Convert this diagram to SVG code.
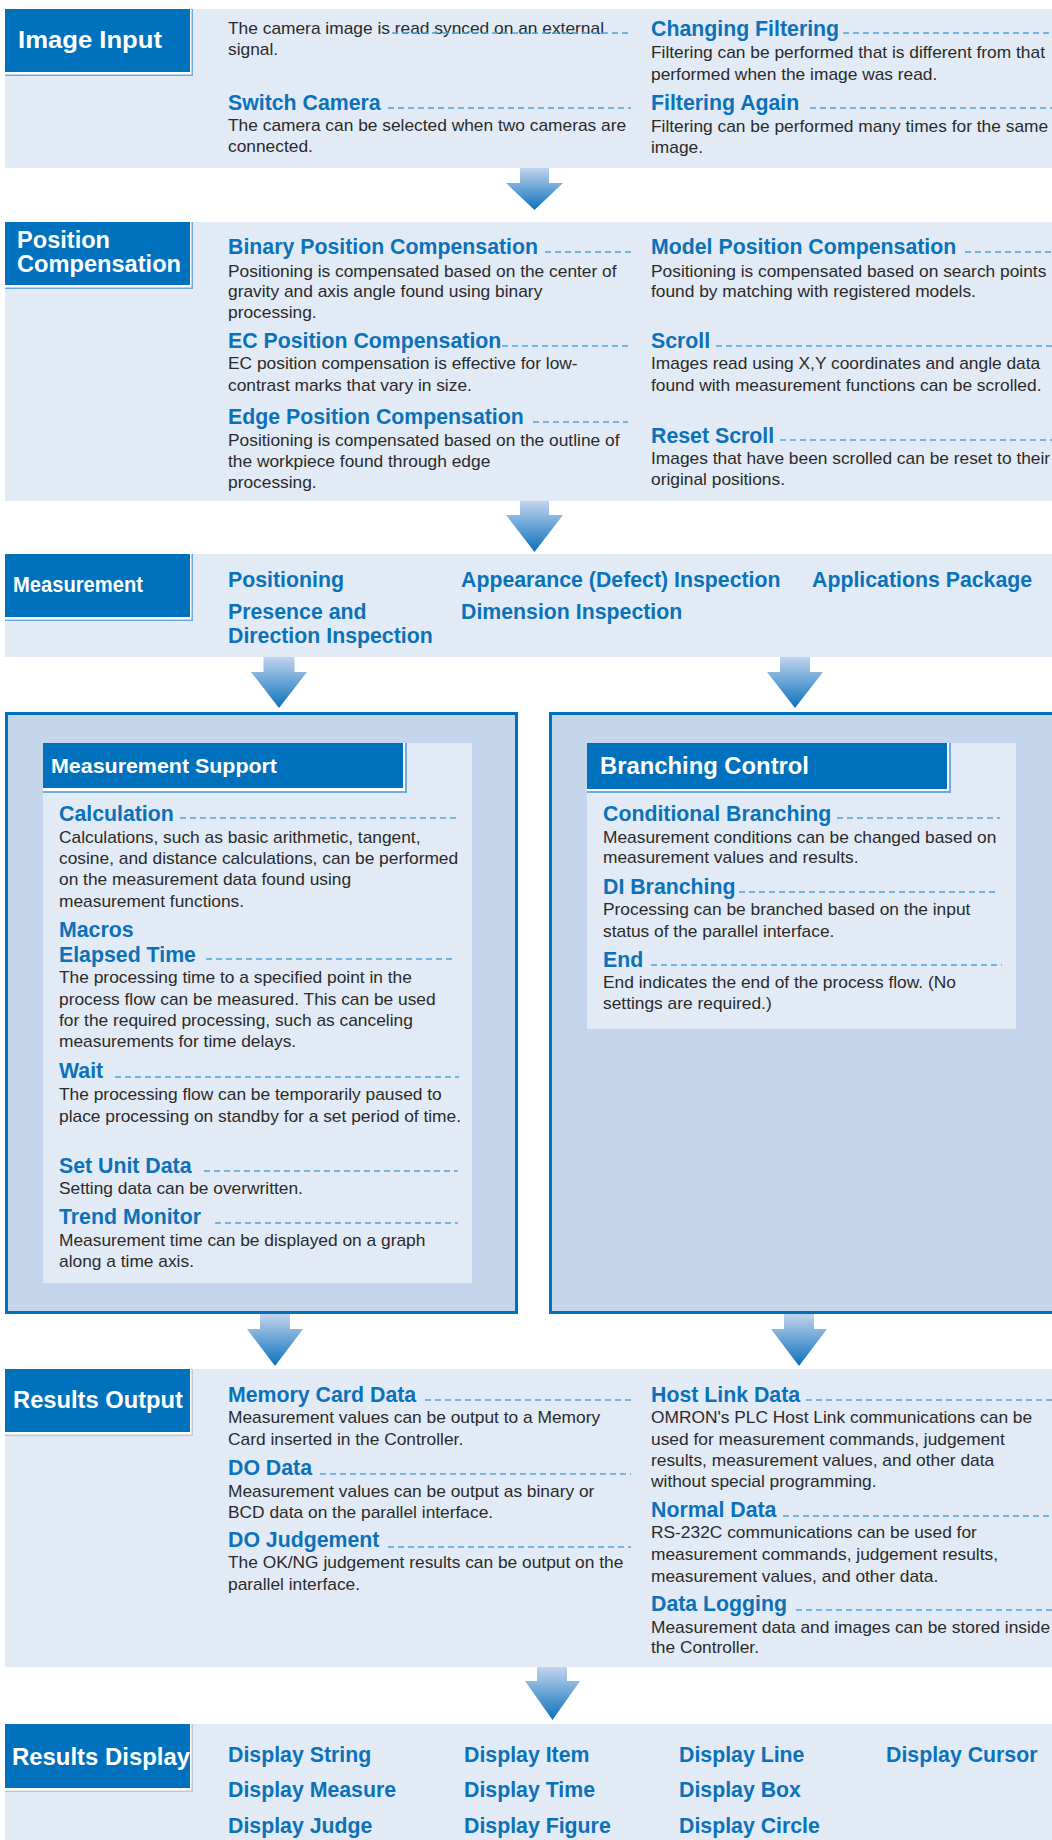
<svg xmlns="http://www.w3.org/2000/svg" width="1052" height="1840" viewBox="0 0 1052 1840">
<defs>
<linearGradient id="ag" x1="0" y1="0" x2="0" y2="1">
<stop offset="0" stop-color="#C2D4EE"/>
<stop offset="1" stop-color="#0B71BC"/>
</linearGradient>
<style>
.band{fill:#E2EAF5}
.tb{fill:#0071BC}
.tbo{fill:#6FA9DE}
.tbg{fill:#C3C7CF}
.gap{fill:#FFFFFF}
.hd{font-family:"Liberation Sans",Arial,sans-serif;font-weight:bold;fill:#FFFFFF}
.t{font-family:"Liberation Sans",Arial,sans-serif;font-weight:bold;font-size:21.3px;fill:#0B72BA}
.b{font-family:"Liberation Sans",Arial,sans-serif;font-size:17.35px;fill:#2A2A2A}
.d{stroke:#4FA3DB;stroke-width:1.3;stroke-dasharray:6 4;fill:none}
.box{fill:#C5D5EC;stroke:#0071BC;stroke-width:3}
.arrow{fill:url(#ag)}
</style>
</defs>
<rect width="1052" height="1840" fill="#FFFFFF"/>

<g id="image-input">
<rect class="band" x="5" y="9" width="1047" height="159"/>
<rect class="tbo" x="5" y="9" width="188" height="67"/>
<rect class="gap" x="5" y="9" width="186.5" height="65.5"/>
<rect class="tb" x="5" y="9" width="185" height="63"/>
<text class="hd" x="18" y="48" font-size="24" textLength="144" lengthAdjust="spacingAndGlyphs">Image Input</text>
<text class="b" x="228" y="34">The camera image is read synced on an external</text>
<text class="b" x="228" y="55">signal.</text>
<line class="d" x1="392" y1="33" x2="631" y2="33"/>
<text class="t" x="228" y="110">Switch Camera</text>
<line class="d" x1="388" y1="108" x2="631" y2="108"/>
<text class="b" x="228" y="131">The camera can be selected when two cameras are</text>
<text class="b" x="228" y="152">connected.</text>
<text class="t" x="651" y="36">Changing Filtering</text>
<line class="d" x1="843" y1="33" x2="1052" y2="33"/>
<text class="b" x="651" y="58">Filtering can be performed that is different from that</text>
<text class="b" x="651" y="80">performed when the image was read.</text>
<text class="t" x="651" y="110">Filtering Again</text>
<line class="d" x1="810" y1="108" x2="1052" y2="108"/>
<text class="b" x="651" y="132">Filtering can be performed many times for the same</text>
<text class="b" x="651" y="153">image.</text>
</g>

<g id="position-compensation">
<rect class="band" x="5" y="222" width="1047" height="279"/>
<rect class="tbo" x="5" y="222" width="188" height="67"/>
<rect class="gap" x="5" y="222" width="186.5" height="65.5"/>
<rect class="tb" x="5" y="222" width="185" height="63"/>
<text class="hd" x="17" y="248" font-size="23.5" textLength="93" lengthAdjust="spacingAndGlyphs">Position</text>
<text class="hd" x="17" y="272" font-size="23.5" textLength="164" lengthAdjust="spacingAndGlyphs">Compensation</text>
<text class="t" x="228" y="254">Binary Position Compensation</text>
<line class="d" x1="545" y1="252" x2="631" y2="252"/>
<text class="b" x="228" y="277">Positioning is compensated based on the center of</text>
<text class="b" x="228" y="297">gravity and axis angle found using binary</text>
<text class="b" x="228" y="318">processing.</text>
<text class="t" x="228" y="348">EC Position Compensation</text>
<line class="d" x1="502" y1="346" x2="628" y2="346"/>
<text class="b" x="228" y="369">EC position compensation is effective for low-</text>
<text class="b" x="228" y="391">contrast marks that vary in size.</text>
<text class="t" x="228" y="424">Edge Position Compensation</text>
<line class="d" x1="533" y1="422" x2="628" y2="422"/>
<text class="b" x="228" y="446">Positioning is compensated based on the outline of</text>
<text class="b" x="228" y="467">the workpiece found through edge</text>
<text class="b" x="228" y="488">processing.</text>
<text class="t" x="651" y="254">Model Position Compensation</text>
<line class="d" x1="965" y1="252" x2="1052" y2="252"/>
<text class="b" x="651" y="277">Positioning is compensated based on search points</text>
<text class="b" x="651" y="297">found by matching with registered models.</text>
<text class="t" x="651" y="348">Scroll</text>
<line class="d" x1="716" y1="346" x2="1052" y2="346"/>
<text class="b" x="651" y="369">Images read using X,Y coordinates and angle data</text>
<text class="b" x="651" y="391">found with measurement functions can be scrolled.</text>
<text class="t" x="651" y="443">Reset Scroll</text>
<line class="d" x1="780" y1="440" x2="1052" y2="440"/>
<text class="b" x="651" y="464">Images that have been scrolled can be reset to their</text>
<text class="b" x="651" y="485">original positions.</text>
</g>

<g id="measurement">
<rect class="band" x="5" y="554" width="1047" height="103"/>
<rect class="tbo" x="5" y="554" width="188" height="67"/>
<rect class="gap" x="5" y="554" width="186.5" height="65.5"/>
<rect class="tb" x="5" y="554" width="185" height="63"/>
<text class="hd" x="13" y="592" font-size="22" textLength="130" lengthAdjust="spacingAndGlyphs">Measurement</text>
<text class="t" x="228" y="587">Positioning</text>
<text class="t" x="228" y="619">Presence and</text>
<text class="t" x="228" y="643">Direction Inspection</text>
<text class="t" x="461" y="587">Appearance (Defect) Inspection</text>
<text class="t" x="461" y="619">Dimension Inspection</text>
<text class="t" x="812" y="587">Applications Package</text>
</g>

<g id="measurement-support">
<rect class="box" x="6.5" y="713.5" width="510" height="599"/>
<rect class="band" x="43" y="743" width="429" height="540"/>
<rect class="tbo" x="43" y="743" width="364" height="50"/>
<rect class="gap" x="43" y="743" width="362" height="48"/>
<rect class="tb" x="43" y="743" width="360" height="45"/>
<text class="hd" x="51" y="773" font-size="21" textLength="226" lengthAdjust="spacingAndGlyphs">Measurement Support</text>
<text class="t" x="59" y="821">Calculation</text>
<line class="d" x1="180" y1="818" x2="459" y2="818"/>
<text class="b" x="59" y="843">Calculations, such as basic arithmetic, tangent,</text>
<text class="b" x="59" y="864">cosine, and distance calculations, can be performed</text>
<text class="b" x="59" y="885">on the measurement data found using</text>
<text class="b" x="59" y="907">measurement functions.</text>
<text class="t" x="59" y="937">Macros</text>
<text class="t" x="59" y="962">Elapsed Time</text>
<line class="d" x1="206" y1="959" x2="454" y2="959"/>
<text class="b" x="59" y="983">The processing time to a specified point in the</text>
<text class="b" x="59" y="1005">process flow can be measured. This can be used</text>
<text class="b" x="59" y="1026">for the required processing, such as canceling</text>
<text class="b" x="59" y="1047">measurements for time delays.</text>
<text class="t" x="59" y="1078">Wait</text>
<line class="d" x1="115" y1="1077" x2="459" y2="1077"/>
<text class="b" x="59" y="1100">The processing flow can be temporarily paused to</text>
<text class="b" x="59" y="1122">place processing on standby for a set period of time.</text>
<text class="t" x="59" y="1173">Set Unit Data</text>
<line class="d" x1="204" y1="1171" x2="458" y2="1171"/>
<text class="b" x="59" y="1194">Setting data can be overwritten.</text>
<text class="t" x="59" y="1224">Trend Monitor</text>
<line class="d" x1="215" y1="1223" x2="458" y2="1223"/>
<text class="b" x="59" y="1246">Measurement time can be displayed on a graph</text>
<text class="b" x="59" y="1267">along a time axis.</text>
</g>

<g id="branching-control">
<rect class="box" x="550.5" y="713.5" width="510" height="599"/>
<rect class="band" x="587" y="743" width="429" height="286"/>
<rect class="tbo" x="587" y="743" width="364" height="50"/>
<rect class="gap" x="587" y="743" width="362" height="48"/>
<rect class="tb" x="587" y="743" width="360" height="46"/>
<text class="hd" x="600" y="774" font-size="23" textLength="209" lengthAdjust="spacingAndGlyphs">Branching Control</text>
<text class="t" x="603" y="821">Conditional Branching</text>
<line class="d" x1="837" y1="818" x2="1000" y2="818"/>
<text class="b" x="603" y="843">Measurement conditions can be changed based on</text>
<text class="b" x="603" y="863">measurement values and results.</text>
<text class="t" x="603" y="894">DI Branching</text>
<line class="d" x1="739" y1="892" x2="997" y2="892"/>
<text class="b" x="603" y="915">Processing can be branched based on the input</text>
<text class="b" x="603" y="937">status of the parallel interface.</text>
<text class="t" x="603" y="967">End</text>
<line class="d" x1="651" y1="965" x2="1002" y2="965"/>
<text class="b" x="603" y="988">End indicates the end of the process flow. (No</text>
<text class="b" x="603" y="1009">settings are required.)</text>
</g>

<g id="results-output">
<rect class="band" x="5" y="1369" width="1047" height="298"/>
<rect class="tbg" x="5" y="1369" width="188" height="67"/>
<rect class="gap" x="5" y="1369" width="186.5" height="65.5"/>
<rect class="tb" x="5" y="1369" width="185" height="63"/>
<text class="hd" x="13" y="1408" font-size="23.5" textLength="170" lengthAdjust="spacingAndGlyphs">Results Output</text>
<text class="t" x="228" y="1402">Memory Card Data</text>
<line class="d" x1="425" y1="1400" x2="631" y2="1400"/>
<text class="b" x="228" y="1423">Measurement values can be output to a Memory</text>
<text class="b" x="228" y="1445">Card inserted in the Controller.</text>
<text class="t" x="228" y="1475">DO Data</text>
<line class="d" x1="320" y1="1474" x2="631" y2="1474"/>
<text class="b" x="228" y="1497">Measurement values can be output as binary or</text>
<text class="b" x="228" y="1518">BCD data on the parallel interface.</text>
<text class="t" x="228" y="1547">DO Judgement</text>
<line class="d" x1="388" y1="1547" x2="631" y2="1547"/>
<text class="b" x="228" y="1568">The OK/NG judgement results can be output on the</text>
<text class="b" x="228" y="1590">parallel interface.</text>
<text class="t" x="651" y="1402">Host Link Data</text>
<line class="d" x1="806" y1="1400" x2="1052" y2="1400"/>
<text class="b" x="651" y="1423">OMRON's PLC Host Link communications can be</text>
<text class="b" x="651" y="1445">used for measurement commands, judgement</text>
<text class="b" x="651" y="1466">results, measurement values, and other data</text>
<text class="b" x="651" y="1487">without special programming.</text>
<text class="t" x="651" y="1517">Normal Data</text>
<line class="d" x1="783" y1="1516" x2="1052" y2="1516"/>
<text class="b" x="651" y="1538">RS-232C communications can be used for</text>
<text class="b" x="651" y="1560">measurement commands, judgement results,</text>
<text class="b" x="651" y="1582">measurement values, and other data.</text>
<text class="t" x="651" y="1611">Data Logging</text>
<line class="d" x1="796" y1="1610" x2="1052" y2="1610"/>
<text class="b" x="651" y="1633">Measurement data and images can be stored inside</text>
<text class="b" x="651" y="1653">the Controller.</text>
</g>

<g id="results-display">
<rect class="band" x="5" y="1724" width="1047" height="116"/>
<rect class="tbg" x="5" y="1724" width="188" height="68"/>
<rect class="gap" x="5" y="1724" width="186.5" height="66.5"/>
<rect class="tb" x="5" y="1724" width="185" height="64"/>
<text class="hd" x="12" y="1765" font-size="23.5" textLength="178" lengthAdjust="spacingAndGlyphs">Results Display</text>
<text class="t" x="228" y="1762">Display String</text>
<text class="t" x="228" y="1797">Display Measure</text>
<text class="t" x="228" y="1833">Display Judge</text>
<text class="t" x="464" y="1762">Display Item</text>
<text class="t" x="464" y="1797">Display Time</text>
<text class="t" x="464" y="1833">Display Figure</text>
<text class="t" x="679" y="1762">Display Line</text>
<text class="t" x="679" y="1797">Display Box</text>
<text class="t" x="679" y="1833">Display Circle</text>
<text class="t" x="886" y="1762">Display Cursor</text>
</g>

<g id="connectors">
<polygon class="arrow" points="520,168 549,168 549,183 563,183 534.5,210 506,183 520,183"/>
<polygon class="arrow" points="520,501 549,501 549,515 563,515 534.5,552 506,515 520,515"/>
<polygon class="arrow" points="263.5,657 294.5,657 294.5,672 307,672 279,708 251,672 263.5,672"/>
<polygon class="arrow" points="780,657 810,657 810,672 823,672 795,708 767,672 780,672"/>
<polygon class="arrow" points="260,1314 290,1314 290,1329 303,1329 275,1366 247,1329 260,1329"/>
<polygon class="arrow" points="784,1314 814,1314 814,1329 827,1329 799,1366 771,1329 784,1329"/>
<polygon class="arrow" points="537,1667 567,1667 567,1681 580,1681 552.5,1720 525,1681 537,1681"/>
</g>
</svg>
